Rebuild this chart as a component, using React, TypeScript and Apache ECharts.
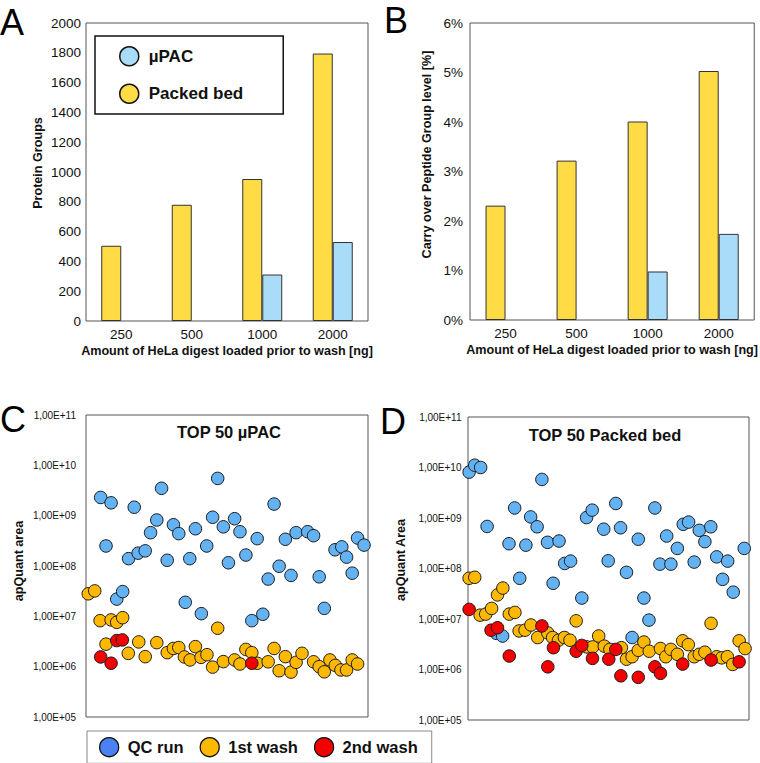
import React, { useEffect, useRef } from 'react';
import * as echarts from 'echarts';

// ---------- Data ----------
const loadCategories = ['250', '500', '1000', '2000'];
const proteinGroupsPacked = [505, 780, 953, 1795];
const proteinGroupsUpac = [null, null, 312, 530];
const carryOverPacked = [2.31, 3.22, 4.01, 5.03];
const carryOverUpac = [null, null, 0.98, 1.74];

// Panel C (TOP 50 µPAC): x = relative position (0-100), y = apQuant area
const cQcX = [5.2, 7.1, 8.9, 10.9, 13.0, 15.1, 17.1, 18.5, 21.0, 22.9, 25.1, 26.8, 28.8, 31.0, 32.9, 35.2, 36.8, 38.8, 40.9, 42.8, 44.9, 46.7, 48.7, 50.5, 52.7, 54.6, 56.7, 58.8, 60.7, 62.7, 64.6, 66.7, 68.5, 70.7, 72.7, 74.5, 78.6, 80.7, 82.7, 84.5, 88.3, 90.7, 92.4, 94.4, 96.3, 98.6];
const cQcY = [2.3e9, 2.5e8, 1.8e9, 2.2e7, 3.1e7, 1.4e8, 1.47e9, 1.8e8, 2.0e8, 4.6e8, 8.2e8, 3.5e9, 1.3e8, 6.6e8, 4.4e8, 1.9e7, 1.4e8, 5.5e8, 1.13e7, 2.5e8, 9.3e8, 5.5e9, 6.0e8, 1.16e8, 8.7e8, 4.8e8, 1.65e8, 8.2e6, 3.5e8, 1.1e7, 5.5e7, 1.7e9, 9.9e7, 3.4e8, 6.5e7, 4.6e8, 4.8e8, 4.0e8, 6.1e7, 1.44e7, 2.1e8, 2.4e8, 1.5e8, 7.2e7, 3.6e8, 2.6e8];
const cWash1X = [0.8, 3.1, 5.0, 7.1, 8.9, 10.9, 13.0, 15.0, 18.7, 21.0, 25.1, 28.8, 31.0, 32.9, 34.9, 36.9, 38.8, 40.8, 42.9, 44.9, 46.7, 48.7, 52.7, 54.6, 56.7, 58.8, 60.7, 64.6, 66.7, 68.5, 70.7, 72.7, 74.5, 76.6, 80.7, 82.7, 84.5, 86.5, 88.4, 90.4, 92.4, 94.4, 96.3];
const cWash1Y = [2.8e7, 3.2e7, 8.2e6, 2.8e6, 8.5e6, 7.6e6, 9.4e6, 1.84e6, 3.1e6, 1.58e6, 3.0e6, 1.9e6, 2.3e6, 2.4e6, 1.56e6, 1.36e6, 2.5e6, 1.53e6, 1.73e6, 9.8e5, 5.8e6, 1.26e6, 1.36e6, 1.13e6, 2.2e6, 1.9e6, 1.17e6, 1.25e6, 2.3e6, 8.3e5, 1.58e6, 7.8e5, 1.22e6, 1.84e6, 1.25e6, 1.0e6, 7.9e5, 1.36e6, 1.06e6, 8.6e5, 8.6e5, 1.36e6, 1.13e6];
const cWash2X = [5.2, 8.9, 10.9, 12.9, 58.8];
const cWash2Y = [1.56e6, 1.17e6, 3.3e6, 3.4e6, 1.17e6];

// Panel D (TOP 50 Packed bed)
const dQcX = [0.4, 2.4, 4.5, 6.8, 10.1, 12.3, 14.6, 16.6, 18.4, 20.6, 22.3, 24.6, 26.3, 28.3, 30.3, 32.4, 34.4, 36.5, 40.5, 42.2, 44.2, 48.3, 49.9, 52.6, 54.3, 56.4, 58.4, 60.6, 62.6, 64.4, 66.5, 68.3, 70.7, 72.2, 74.5, 76.6, 78.5, 80.5, 82.3, 84.3, 86.4, 88.5, 90.6, 92.4, 94.4, 98.3];
const dQcY = [8.1e9, 1.11e10, 1.0e10, 6.8e8, 5.2e6, 4.6e6, 3.1e8, 1.58e9, 6.4e7, 2.9e8, 1.05e9, 6.7e8, 5.8e9, 3.3e8, 5.1e7, 3.5e8, 1.26e8, 1.4e8, 2.6e7, 1.02e9, 1.43e9, 6.0e8, 1.42e8, 1.94e9, 6.4e8, 8.4e7, 4.3e6, 3.8e8, 2.6e7, 9.5e6, 1.58e9, 1.22e8, 4.4e8, 1.22e8, 2.5e8, 7.5e8, 8.3e8, 1.34e8, 5.7e8, 3.4e8, 6.7e8, 1.7e8, 6.1e7, 1.4e8, 3.4e7, 2.5e8];
const dWash1X = [0.4, 2.4, 4.3, 6.3, 8.4, 10.5, 12.4, 14.7, 16.7, 18.2, 20.3, 22.4, 24.8, 28.4, 30.1, 32.2, 34.3, 36.3, 38.5, 42.3, 44.4, 46.5, 48.5, 50.5, 54.6, 56.4, 58.4, 60.6, 62.6, 64.5, 68.5, 70.4, 72.2, 74.5, 76.4, 78.4, 80.5, 82.3, 84.3, 86.5, 88.5, 90.3, 92.3, 94.2, 96.5, 98.6];
const dWash1Y = [6.4e7, 6.7e7, 1.19e7, 1.25e7, 1.62e7, 3.0e7, 4.1e7, 1.25e7, 1.35e7, 5.8e6, 6.0e6, 7.6e6, 4.3e6, 5.3e6, 4.3e6, 3.8e6, 4.3e6, 3.8e6, 9.2e6, 2.8e6, 2.8e6, 4.6e6, 2.9e6, 2.5e6, 2.7e6, 1.6e6, 1.79e6, 2.4e6, 3.5e6, 2.3e6, 2.6e6, 1.79e6, 2.5e6, 2.0e6, 3.7e6, 3.1e6, 1.79e6, 2.0e6, 2.2e6, 8.2e6, 1.79e6, 1.7e6, 1.79e6, 1.26e6, 3.7e6, 2.6e6];
const dWash2X = [0.4, 8.2, 10.5, 14.7, 26.3, 28.4, 30.4, 38.5, 40.5, 44.3, 50.1, 52.6, 54.4, 60.6, 66.5, 68.5, 76.4, 86.5, 96.5];
const dWash2Y = [1.55e7, 6.0e6, 6.7e6, 1.85e6, 7.3e6, 1.13e6, 2.7e6, 2.3e6, 3.0e6, 1.66e6, 1.6e6, 2.5e6, 7.5e5, 7.0e5, 1.13e6, 8.4e5, 1.28e6, 1.54e6, 1.42e6];

// ---------- Styles ----------
const FONT = 'Liberation Sans, Arial, Helvetica, sans-serif';
const YELLOW = '#ffdc46';
const LIGHTBLUE = '#a9dcf9';
const QC_BLUE = '#63b3f4';
const QC_LEGEND_BLUE = '#4a82f4';
const ORANGE = '#ffb800';
const RED = '#f50000';

const zip = (xs: number[], ys: number[]) => xs.map((x, i) => [x, ys[i]]);

const logLabel = (v: number) => {
  const e = Math.round(Math.log10(v));
  return '1,00E+' + String(e).padStart(2, '0');
};

export default function App() {
  const ref = useRef<HTMLDivElement>(null);

  useEffect(() => {
    if (!ref.current) return;
    const chart = echarts.init(ref.current, undefined, { renderer: 'svg' });

    const gridBase = { show: true, borderColor: '#555', borderWidth: 1, containLabel: false };
    const tickLabel = { fontSize: 13.5, color: '#111', fontFamily: FONT };
    const axisTitle = { fontSize: 12.6, fontWeight: 'bold' as const, color: '#111', fontFamily: FONT };
    // shifts a rotated y-axis title upwards along the axis
    const yTitle = (shift: number) => ({ ...axisTitle, padding: [0, 0, 0, shift] });

    const catAxis = (gridIndex: number) => ({
      gridIndex,
      type: 'category',
      data: loadCategories,
      axisTick: { show: false },
      axisLine: { show: false },
      axisLabel: { ...tickLabel, margin: 6 },
      name: 'Amount of HeLa digest loaded prior to wash [ng]',
      nameLocation: 'middle',
      nameGap: 23,
      nameTextStyle: axisTitle,
    });

    const hiddenX = (gridIndex: number) => ({
      gridIndex,
      type: 'value',
      min: 0,
      max: 100,
      show: false,
    });

    const logAxis = (gridIndex: number, name: string, margin: number, shift: number) => ({
      gridIndex,
      type: 'log',
      logBase: 10,
      min: 1e5,
      max: 1e11,
      splitNumber: 6,
      splitLine: { show: false },
      axisTick: { show: false },
      axisLine: { show: false },
      axisLabel: { fontSize: 10, color: '#111', fontFamily: FONT, margin, formatter: logLabel },
      name,
      nameLocation: 'middle',
      nameGap: 61,
      nameTextStyle: yTitle(shift),
    });

    const scatterStyle = (color: string) => ({
      color,
      borderColor: '#1a1a1a',
      borderWidth: 1,
      opacity: 1,
    });

    const scatter = (name: string, gi: number, data: number[][], color: string) => ({
      name,
      type: 'scatter',
      xAxisIndex: gi,
      yAxisIndex: gi,
      data,
      symbol: 'circle',
      symbolSize: 12.5,
      itemStyle: scatterStyle(color),
      clip: false,
    });

    const option: any = {
      animation: false,
      backgroundColor: '#fff',
      textStyle: { fontFamily: FONT },
      grid: [
        { ...gridBase, left: 86, top: 23, width: 282, height: 298 },
        { ...gridBase, left: 470, top: 23, width: 289, height: 297 },
        { ...gridBase, left: 86, top: 415, width: 282, height: 302 },
        { ...gridBase, left: 468, top: 417, width: 281, height: 303 },
      ],
      xAxis: [catAxis(0), catAxis(1), hiddenX(2), hiddenX(3)],
      yAxis: [
        {
          gridIndex: 0,
          type: 'value',
          min: 0,
          max: 2000,
          interval: 200,
          splitLine: { show: false },
          axisTick: { show: false },
          axisLine: { show: false },
          axisLabel: { ...tickLabel, margin: 5, formatter: (v: number) => String(v) },
          name: 'Protein Groups',
          nameLocation: 'middle',
          nameGap: 42,
          nameTextStyle: yTitle(18),
        },
        {
          gridIndex: 1,
          type: 'value',
          min: 0,
          max: 6,
          interval: 1,
          splitLine: { show: false },
          axisTick: { show: false },
          axisLine: { show: false },
          axisLabel: { ...tickLabel, margin: 7, formatter: '{value}%' },
          name: 'Carry over Peptide Group level [%]',
          nameLocation: 'middle',
          nameGap: 37,
          nameTextStyle: yTitle(34),
        },
        logAxis(2, 'apQuant area', 10, 10),
        logAxis(3, 'apQuant Area', 6.5, 17),
      ],
      legend: [
        {
          data: [
            { name: 'µPAC', itemStyle: { color: LIGHTBLUE, borderColor: '#111', borderWidth: 1.5 } },
            { name: 'Packed bed', itemStyle: { color: YELLOW, borderColor: '#111', borderWidth: 1.5 } },
          ],
          orient: 'vertical',
          left: 95,
          top: 36,
          icon: 'circle',
          itemWidth: 19,
          itemHeight: 19,
          itemGap: 17,
          padding: [10, 40, 10, 24],
          borderColor: '#111',
          borderWidth: 1.5,
          backgroundColor: '#fff',
          selectedMode: false,
          textStyle: { fontSize: 17, fontWeight: 'bold', color: '#111', fontFamily: FONT, padding: [0, 0, 0, 5] },
        },
        {
          data: [
            { name: 'QC run', itemStyle: { color: QC_LEGEND_BLUE, borderColor: '#111', borderWidth: 1.3 } },
            { name: '1st wash', itemStyle: { color: ORANGE, borderColor: '#111', borderWidth: 1.3 } },
            { name: '2nd wash', itemStyle: { color: RED, borderColor: '#111', borderWidth: 1.3 } },
          ],
          orient: 'horizontal',
          left: 87,
          top: 731,
          icon: 'circle',
          itemWidth: 19,
          itemHeight: 19,
          itemGap: 16,
          padding: [6, 14, 6, 12],
          borderColor: '#888',
          borderWidth: 1,
          backgroundColor: '#fff',
          selectedMode: false,
          textStyle: { fontSize: 16.5, fontWeight: 'bold', color: '#111', fontFamily: FONT, padding: [0, 0, 0, 4] },
        },
      ],
      graphic: [
        { type: 'text', left: 0, top: 4, style: { text: 'A', fontSize: 36, fill: '#000', fontFamily: FONT } },
        { type: 'text', left: 384, top: 2, style: { text: 'B', fontSize: 36, fill: '#000', fontFamily: FONT } },
        { type: 'text', left: 0, top: 401, style: { text: 'C', fontSize: 36, fill: '#000', fontFamily: FONT } },
        { type: 'text', left: 380, top: 403, style: { text: 'D', fontSize: 36, fill: '#000', fontFamily: FONT } },
        {
          type: 'text',
          x: 229,
          y: 432,
          style: { text: 'TOP 50 µPAC', fontSize: 16.5, fontWeight: 'bold', fill: '#111', fontFamily: FONT, textAlign: 'center', textVerticalAlign: 'middle' },
        },
        {
          type: 'text',
          x: 605,
          y: 435,
          style: { text: 'TOP 50 Packed bed', fontSize: 16.5, fontWeight: 'bold', fill: '#111', fontFamily: FONT, textAlign: 'center', textVerticalAlign: 'middle' },
        },
      ],
      series: [
        {
          name: 'Packed bed', type: 'bar', xAxisIndex: 0, yAxisIndex: 0, data: proteinGroupsPacked,
          barWidth: 20, barGap: '0%', itemStyle: { color: YELLOW, borderColor: '#333', borderWidth: 1 },
        },
        {
          name: 'µPAC', type: 'bar', xAxisIndex: 0, yAxisIndex: 0, data: proteinGroupsUpac,
          barWidth: 20, barGap: '0%', itemStyle: { color: LIGHTBLUE, borderColor: '#333', borderWidth: 1 },
        },
        {
          name: 'Packed bed', type: 'bar', xAxisIndex: 1, yAxisIndex: 1, data: carryOverPacked,
          barWidth: 20, barGap: '0%', itemStyle: { color: YELLOW, borderColor: '#333', borderWidth: 1 },
        },
        {
          name: 'µPAC', type: 'bar', xAxisIndex: 1, yAxisIndex: 1, data: carryOverUpac,
          barWidth: 20, barGap: '0%', itemStyle: { color: LIGHTBLUE, borderColor: '#333', borderWidth: 1 },
        },
        scatter('QC run', 2, zip(cQcX, cQcY), QC_BLUE),
        scatter('1st wash', 2, zip(cWash1X, cWash1Y), ORANGE),
        scatter('2nd wash', 2, zip(cWash2X, cWash2Y), RED),
        scatter('QC run', 3, zip(dQcX, dQcY), QC_BLUE),
        scatter('1st wash', 3, zip(dWash1X, dWash1Y), ORANGE),
        scatter('2nd wash', 3, zip(dWash2X, dWash2Y), RED),
      ],
    };

    chart.setOption(option);
    return () => chart.dispose();
  }, []);

  return (
    <div
      ref={ref}
      style={{ position: 'absolute', left: 0, top: 0, width: 760, height: 763, background: '#fff' }}
    />
  );
}
